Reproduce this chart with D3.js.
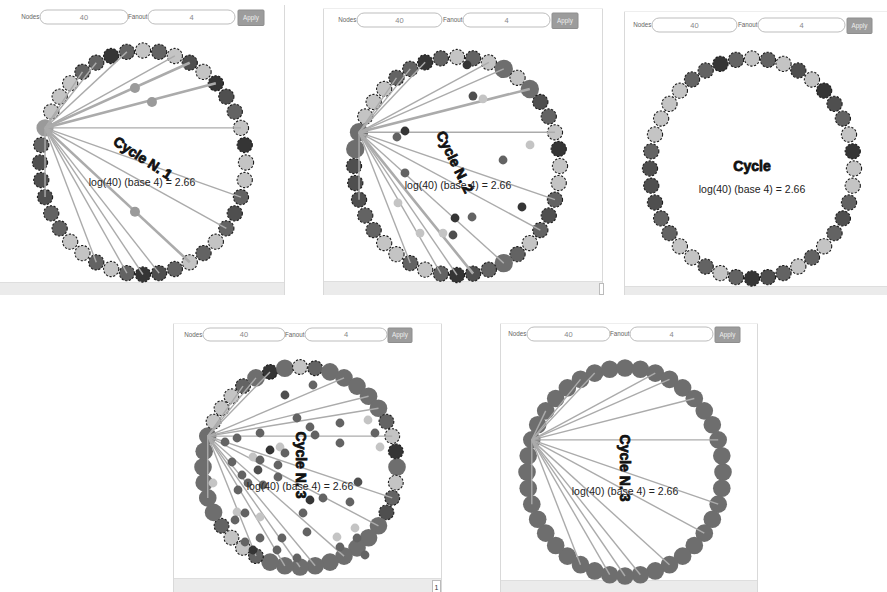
<!DOCTYPE html>
<html><head><meta charset="utf-8">
<script src="https://cdn.jsdelivr.net/npm/d3@7"></script>
<style>html,body{margin:0;padding:0;background:#fff;}svg{display:block;font-family:"Liberation Sans",Arial,sans-serif;}</style>
</head><body><svg id="c" width="887" height="592"></svg>
<script>
// ---------------- DATA ----------------
const nodeCount = 40;
const fanout = 4;
const logLabel = "log(40) (base 4) = 2.66";
// node shade codes, index 0 = rightmost node, going clockwise
const baseShades = ["L","L","G","M","G","L","G","L","G","M",
                    "D","G","L","G","L","L","G","G","M","M",
                    "M","G","L","L","L","L","G","G","D","G",
                    "L","G","L","M","L","D","M","G","L","D"];
const panelTitles = ["Cycle N. 1", "Cycle N. 2", "Cycle", "Cycle N. 3", "Cycle N. 3"];
const hubNode = 22;
const targets1 = [26, 27, 29, 32, 33, 35, 38, 2, 4, 7, 9, 10, 11, 13, 18];
const targets2 = [26, 27, 28, 32, 33, 35, 38, 2, 4, 7, 9, 10, 11, 13, 18];
const targets3 = [];
const targets4 = [26, 27, 28, 33, 35, 36, 38, 2, 4, 7, 9, 10, 11, 13, 18];
const targets5 = [24, 27, 28, 32, 33, 35, 38, 2, 4, 7, 9, 10, 11, 13, 18];
const thick1 = [33, 35, 7];
const thick2 = [35, 9];
const infected1 = [22];
const infected2 = [22, 21, 33, 35, 7];
const infected3 = [];
const uninfected4 = [13, 14, 15, 16, 23, 24, 25, 26, 28, 30, 31, 37, 38, 39, 1, 2, 3];
const uninfected5 = [];
// messages in flight: [u, v, shade] in circle-normalised units
const messages1 = [[-0.078, -0.665, "H"], [0.087, -0.54, "H"], [-0.078, 0.44, "H"]];
const messages2 = [[0.097,-0.927,"D"],[0.155,-0.642,"M"],[0.252,-0.615,"L"],[-0.505,-0.321,"D"],
  [-0.583,-0.266,"G"],[0.709,-0.193,"L"],[0.447,-0.055,"G"],[-0.505,0.064,"G"],[0.631,0.376,"D"],
  [-0.573,0.339,"L"],[-0.019,0.477,"D"],[0.146,0.468,"G"],[-0.359,0.615,"L"],[-0.136,0.615,"L"],[-0.039,0.633,"M"]];
const messages3 = [];
const messages4 = [[-0.155,-0.72,"M"],[0.134,-0.82,"G"],[-0.031,-0.49,"G"],[0.412,-0.44,"G"],[0.701,-0.47,"L"],
  [0.103,-0.40,"G"],[-0.412,-0.34,"G"],[0.155,-0.32,"G"],[-0.649,-0.29,"G"],[-0.773,-0.25,"G"],[0.773,-0.34,"G"],
  [-0.309,-0.17,"D"],[-0.206,-0.20,"L"],[-0.155,-0.14,"G"],[0.412,-0.24,"G"],[0.825,-0.20,"L"],[-0.485,-0.10,"L"],
  [-0.412,-0.07,"G"],[-0.701,-0.05,"G"],[-0.227,-0.02,"G"],[-0.433,0.03,"M"],[-0.598,0.08,"G"],[-0.227,0.10,"G"],
  [-0.536,0.16,"G"],[-0.381,0.18,"G"],[0.598,0.15,"M"],[-0.897,0.16,"L"],[-0.639,0.23,"G"],[0.103,0.33,"D"],
  [0.237,0.31,"G"],[0.031,0.46,"G"],[0.515,0.35,"G"],[-0.649,0.45,"L"],[-0.567,0.46,"G"],[-0.412,0.50,"L"],
  [-0.670,0.53,"G"],[0.072,0.65,"G"],[0.567,0.61,"L"],[-0.412,0.71,"G"],[-0.186,0.71,"G"],[0.381,0.70,"L"],
  [0.588,0.71,"G"],[-0.567,0.75,"G"],[-0.237,0.83,"G"],[0.412,0.80,"G"],[-0.485,0.83,"D"],[-0.031,0.91,"G"],[0.670,0.88,"G"]];
const messages5 = [];

// ---------------- STYLE / LAYOUT ----------------
const shadeColor = {D:"#353535", M:"#4f4f4f", G:"#636363", L:"#c4c4c4", H:"#9a9a9a", I:"#6e6e6e"};
const layouts = [
  {frame:[0,0,285,295], bar:282, inputs:[[40,128],[148,235]], apply:[238,264], cy0:10, ch:14,
   cx:143, cy:162.5, rx:103, ry:112, title:[143,158,33], log:[142,186], r:7.6, ri:8.6},
  {frame:[323,8,603,295], bar:281, inputs:[[357,442],[463,550]], apply:[552,578], cy0:13, ch:14,
   cx:457, cy:166, rx:103, ry:109, title:[455,162,64], log:[458,189], r:7.6, ri:9.2},
  {frame:[624,11,887,295], bar:286, inputs:[[652,737],[758,845]], apply:[847,872], cy0:18, ch:14,
   cx:752, cy:168.5, rx:102, ry:110, title:[752,166,0], log:[752,193], r:7.6, ri:8.6},
  {frame:[173,323,442,592], bar:578, inputs:[[203,285],[305,387]], apply:[388,412], cy0:328, ch:13,
   cx:300, cy:467, rx:97, ry:100, title:[301,465,90], log:[300,490], r:7.4, ri:8.8},
  {frame:[500,323,758,592], bar:580, inputs:[[527,610],[630,713]], apply:[715,740], cy0:327, ch:14,
   cx:625, cy:472, rx:98, ry:104, title:[625,468,90], log:[625,495], r:7.4, ri:8.8}
];
const panelData = [
  {targets:targets1, thick:thick1, infected:i=>infected1.includes(i), messages:messages1, hubColor:"H"},
  {targets:targets2, thick:thick2, infected:i=>infected2.includes(i), messages:messages2, hubColor:"I"},
  {targets:targets3, thick:[], infected:i=>infected3.includes(i), messages:messages3, hubColor:null},
  {targets:targets4, thick:[], infected:i=>!uninfected4.includes(i), messages:messages4, hubColor:"I"},
  {targets:targets5, thick:[], infected:i=>!uninfected5.includes(i), messages:messages5, hubColor:"I"}
];

const svg = d3.select("#c");
const angle = d3.scaleLinear().domain([0, nodeCount]).range([0, 2 * Math.PI]);

// top tabs of the first screenshot
[[10,50],[55,137],[140,189],[193,213],[218,243],[248,277]].forEach(s =>
  svg.append("line").attr("x1", s[0]).attr("x2", s[1]).attr("y1", 5).attr("y2", 5)
    .attr("stroke", "#d6d6d6").attr("stroke-width", 1));

layouts.forEach((L, pi) => {
  const P = panelData[pi];
  const g = svg.append("g");
  const [fx0, fy0, fx1, fy1] = L.frame;
  g.append("rect").attr("x", fx0).attr("y", fy0).attr("width", fx1 - fx0).attr("height", fy1 - fy0).attr("fill", "#fff");
  g.append("rect").attr("x", fx0).attr("y", L.bar).attr("width", fx1 - fx0).attr("height", fy1 - L.bar).attr("fill", "#ebebeb");
  g.append("line").attr("x1", fx0).attr("x2", fx1).attr("y1", L.bar + 0.5).attr("y2", L.bar + 0.5).attr("stroke", "#dedede");
  if (pi !== 0) g.append("line").attr("x1", fx0 + 0.5).attr("x2", fx0 + 0.5).attr("y1", fy0).attr("y2", fy1).attr("stroke", "#d9d9d9");
  if (fx1 < 887) g.append("line").attr("x1", fx1 - 0.5).attr("x2", fx1 - 0.5).attr("y1", fy0 + (pi === 0 ? 5 : 0)).attr("y2", fy1).attr("stroke", "#d9d9d9");
  if (pi !== 0) g.append("line").attr("x1", fx0).attr("x2", fx1).attr("y1", fy0 + 0.5).attr("y2", fy0 + 0.5).attr("stroke", "#eeeeee");
  if (pi === 1) g.append("rect").attr("x", 599.5).attr("y", 283.5).attr("width", 4).attr("height", 11).attr("fill", "#fff").attr("stroke", "#bbb");
  if (pi === 3) {
    g.append("rect").attr("x", 432.5).attr("y", 580.5).attr("width", 8).attr("height", 12).attr("fill", "#fff").attr("stroke", "#bbb");
    g.append("text").attr("x", 436.5).attr("y", 590).attr("text-anchor", "middle").attr("font-size", 7).attr("fill", "#333").text("1");
  }

  // controls
  const labels = ["Nodes", "Fanout"], vals = [nodeCount, fanout];
  L.inputs.forEach((inp, k) => {
    g.append("text").attr("x", inp[0] - 0.5).attr("y", L.cy0 + L.ch / 2 + 2.2).attr("text-anchor", "end")
      .attr("font-size", 6.3).attr("fill", "#666").text(labels[k]);
    g.append("rect").attr("x", inp[0]).attr("y", L.cy0).attr("width", inp[1] - inp[0]).attr("height", L.ch)
      .attr("rx", 7).attr("fill", "#fff").attr("stroke", "#bdbdbd").attr("stroke-width", 1);
    g.append("text").attr("x", (inp[0] + inp[1]) / 2).attr("y", L.cy0 + L.ch / 2 + 2.6).attr("text-anchor", "middle")
      .attr("font-size", 7.5).attr("fill", "#888").text(vals[k]);
  });
  g.append("rect").attr("x", L.apply[0]).attr("y", L.cy0).attr("width", L.apply[1] - L.apply[0]).attr("height", L.ch + 1.5)
    .attr("rx", 1).attr("fill", "#9c9c9c").attr("stroke", "#8e8e8e");
  g.append("text").attr("x", (L.apply[0] + L.apply[1]) / 2).attr("y", L.cy0 + L.ch / 2 + 2.8).attr("text-anchor", "middle")
    .attr("font-size", 6.3).attr("fill", "#eee").text("Apply");

  // scales for the ring
  const x = d3.scaleLinear().domain([-1, 1]).range([L.cx - L.rx, L.cx + L.rx]);
  const y = d3.scaleLinear().domain([-1, 1]).range([L.cy - L.ry, L.cy + L.ry]);
  const nodes = d3.range(nodeCount).map(i => ({
    i, px: x(Math.cos(angle(i))), py: y(Math.sin(angle(i))), inf: P.infected(i)
  }));

  // nodes
  g.append("g").selectAll("circle").data(nodes).join("circle")
    .attr("cx", d => d.px).attr("cy", d => d.py)
    .attr("r", d => d.inf ? L.ri : L.r)
    .attr("fill", d => d.inf ? shadeColor[d.i === hubNode && P.hubColor ? P.hubColor : "I"] : shadeColor[baseShades[d.i]])
    .attr("stroke", d => d.inf ? "none" : "#1c1c1c")
    .attr("stroke-width", 1.1)
    .attr("stroke-dasharray", "2.2,1.6");

  // gossip links from the hub
  const hub = nodes[hubNode];
  g.append("g").selectAll("line").data(P.targets).join("line")
    .attr("x1", hub.px).attr("y1", hub.py)
    .attr("x2", t => nodes[t].px).attr("y2", t => nodes[t].py)
    .attr("stroke", "#ababab")
    .attr("stroke-width", t => P.thick.includes(t) ? 2.6 : 1.4);

  // messages
  g.append("g").selectAll("circle").data(P.messages).join("circle")
    .attr("cx", m => x(m[0])).attr("cy", m => y(m[1]))
    .attr("r", pi === 0 ? 5 : 4.4)
    .attr("fill", m => shadeColor[m[2]]);

  // titles
  const [tx, ty, rot] = L.title;
  g.append("text").attr("transform", `translate(${tx},${ty}) rotate(${rot})`)
    .attr("text-anchor", "middle").attr("dy", "0.35em")
    .attr("font-size", 14).attr("font-weight", "bold").attr("fill", "#111")
    .attr("stroke", "#111").attr("stroke-width", 0.8)
    .text(panelTitles[pi]);
  g.append("text").attr("x", L.log[0]).attr("y", L.log[1]).attr("text-anchor", "middle")
    .attr("font-size", 10.5).attr("fill", "#222").text(logLabel);
});
</script></body></html>
